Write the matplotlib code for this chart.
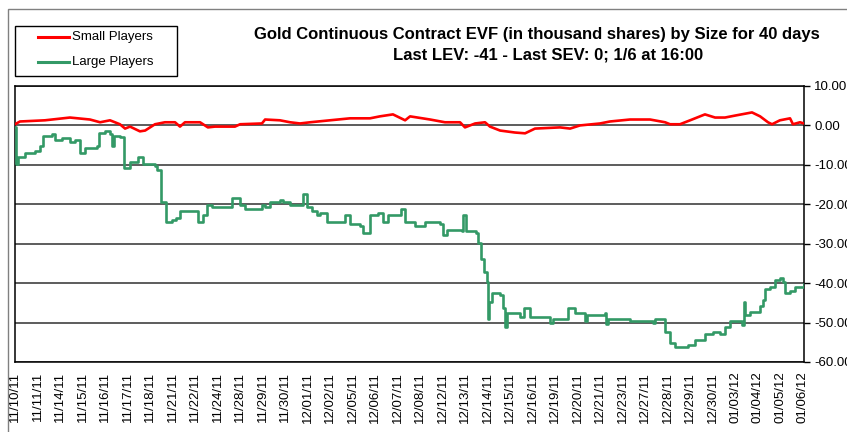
import matplotlib.pyplot as plt
from matplotlib.patches import Rectangle
from matplotlib.lines import Line2D

plt.rcParams['font.family'] = ['Liberation Sans', 'DejaVu Sans']

# trading days on the category axis
dates = ['11/10/11', '11/11/11', '11/14/11', '11/15/11', '11/16/11', '11/17/11',
         '11/18/11', '11/21/11', '11/22/11', '11/24/11', '11/28/11', '11/29/11',
         '11/30/11', '12/01/11', '12/02/11', '12/05/11', '12/06/11', '12/07/11',
         '12/08/11', '12/12/11', '12/13/11', '12/14/11', '12/15/11', '12/16/11',
         '12/19/11', '12/20/11', '12/21/11', '12/23/11', '12/27/11', '12/28/11',
         '12/29/11', '12/30/11', '01/03/12', '01/04/12', '01/05/12', '01/06/12']

# Large players EVF: position in days since 11/10, value in thousand shares
large_t = [0.00, 0.04, 0.13, 0.44, 0.89, 1.11, 1.24, 1.64, 1.78, 2.09, 2.44, 2.67,
           2.89, 3.11, 3.64, 3.73, 4.00, 4.22, 4.31, 4.40, 4.66, 4.84, 5.11, 5.46,
           5.69, 6.22, 6.31, 6.49, 6.71, 6.97, 7.15, 7.33, 8.00, 8.13, 8.35, 8.53,
           8.75, 9.33, 9.64, 10.00, 10.22, 10.79, 10.97, 11.11, 11.33, 11.77, 11.91,
           12.22, 12.66, 12.79, 12.97, 13.19, 13.42, 13.55, 13.86, 14.57, 14.66,
           14.88, 15.33, 15.46, 15.77, 16.13, 16.35, 16.57, 17.01, 17.15, 17.33,
           17.77, 18.21, 18.88, 19.01, 19.19, 19.86, 19.90, 20.04, 20.48, 20.57,
           20.70, 20.83, 20.97, 21.01, 21.06, 21.19, 21.55, 21.68, 21.77, 21.86,
           22.43, 22.61, 22.88, 23.68, 23.77, 23.90, 24.43, 24.57, 24.88, 25.28,
           25.32, 25.41, 26.21, 26.25, 26.34, 27.32, 28.34, 28.43, 28.74, 28.88,
           29.10, 29.32, 29.54, 29.90, 30.21, 30.65, 31.01, 31.32, 31.54, 31.76,
           32.30, 32.39, 32.43, 32.65, 33.10, 33.23, 33.32, 33.54, 33.76, 33.98,
           34.12, 34.21, 34.43, 34.65, 35.05]
large_v = [-0.3, -9.9, -7.9, -7.1, -6.6, -5.3, -2.8, -2.3, -3.6, -3.3, -4.1, -3.6,
           -6.9, -5.6, -5.3, -1.8, -1.5, -2.3, -5.3, -2.8, -3.0, -10.7, -9.4, -7.9,
           -9.9, -10.2, -11.2, -19.5, -24.6, -23.9, -23.4, -21.8, -21.6, -24.6, -22.6, -20.1,
           -20.8, -20.8, -18.3, -20.1, -21.3, -21.3, -20.1, -20.8, -19.5, -18.8, -19.3,
           -20.1, -20.1, -17.5, -20.6, -21.8, -22.6, -22.1, -24.6, -24.6, -22.6,
           -25.1, -25.6, -27.2, -22.6, -22.1, -24.6, -22.6, -22.6, -21.3, -24.6,
           -25.6, -24.6, -24.9, -27.7, -26.6, -26.9, -22.6, -26.9, -27.2, -29.7,
           -34.0, -37.3, -39.8, -49.2, -44.7, -42.4, -42.9, -46.2, -51.0, -47.5,
           -48.5, -46.2, -48.5, -48.5, -50.0, -49.2, -49.2, -46.2, -47.5, -47.5,
           -49.7, -48.0, -47.5, -50.3, -49.0, -49.7, -50.0, -49.0, -49.0, -52.5,
           -55.1, -56.1, -56.3, -55.6, -54.3, -53.0, -52.3, -53.0, -51.0, -49.5,
           -50.5, -44.7, -48.0, -47.2, -45.9, -44.2, -41.6, -40.9, -39.1, -38.6,
           -39.6, -42.4, -42.1, -40.9, -40.1]

# Small players EVF
small_t = [0.00, 0.22, 1.33, 2.44, 3.33, 3.78, 4.22, 4.66, 4.89, 5.11, 5.55, 5.78,
           6.22, 6.66, 7.11, 7.33, 7.55, 8.22, 8.57, 8.88, 9.77, 10.00, 10.97, 11.11,
           11.77, 12.22, 12.66, 13.11, 13.99, 14.88, 15.77, 16.21, 16.79, 17.33,
           17.55, 18.44, 19.10, 19.77, 19.99, 20.44, 20.88, 21.10, 21.55, 22.21,
           22.66, 23.10, 24.21, 24.66, 25.10, 25.99, 26.43, 27.32, 28.21, 28.88,
           29.10, 29.54, 29.99, 30.65, 31.10, 31.54, 31.99, 32.74, 33.10, 33.45,
           33.63, 33.98, 34.43, 34.56, 34.87, 35.05]
small_v = [0.3, 1.0, 1.3, 2.0, 1.5, 0.8, 1.3, 0.3, -0.8, -0.3, -1.5, -1.3,
           0.3, 0.8, 0.8, -0.3, 0.8, 0.8, -0.5, -0.3, -0.3, 0.3, 0.5, 1.5,
           1.3, 0.8, 0.5, 0.8, 1.3, 1.8, 1.8, 2.3, 2.8, 1.3,
           2.3, 1.5, 0.8, 0.8, -0.5, 0.5, 0.8, -0.3, -1.3, -1.8,
           -2.0, -0.8, -0.5, -0.8, 0.0, 0.5, 1.0, 1.5, 1.5, 0.8,
           0.3, 0.3, 1.3, 2.8, 2.0, 2.0, 2.5, 3.3, 2.3, 0.8,
           0.3, 1.3, 1.8, 0.3, 0.8, 0.5]

yticks = [10, 0, -10, -20, -30, -40, -50, -60]

red = '#FF0000'
green = '#339966'

fig = plt.figure(figsize=(8.47, 4.32), dpi=100)
ax = fig.add_axes([15/847, 1 - 362/432, 789/847, 276/432])

# intraday values are stepwise, like the original
ax.plot(large_t, large_v, color=green, linewidth=1.9, drawstyle='steps-post', zorder=3)
ax.plot(small_t, small_v, color=red, linewidth=1.9, zorder=4)

ax.set_xlim(0, 35.05)
ax.set_ylim(-60, 10)
ax.set_xticks(range(len(dates)))
ax.set_xticklabels(dates, rotation=90, ha='center', va='top', fontsize=9.5)
ax.tick_params(axis='x', length=0, pad=7)

ax.yaxis.tick_right()
ax.set_yticks(yticks)
ax.set_yticklabels([f'{v:.2f}' for v in yticks], fontsize=9.5)
ax.tick_params(axis='y', length=4.5, width=1, pad=3, direction='out')
ax.yaxis.grid(True, color='#303030', linewidth=1.1)
ax.set_axisbelow(True)
for s in ax.spines.values():
    s.set_color('black')
    s.set_linewidth(1.1)

# outer chart frame
fig.add_artist(Rectangle((8/847, -0.1), 1.0, 1 - 9/432 + 0.1, transform=fig.transFigure,
                         fill=False, edgecolor='#808080', linewidth=1))

# legend box
fig.add_artist(Rectangle((15/847, 1 - 76/432), 162/847, 50/432, transform=fig.transFigure,
                         fill=False, edgecolor='black', linewidth=1))
for yy, col, lab in [(37, red, 'Small Players'), (62, green, 'Large Players')]:
    fig.add_artist(Line2D([38/847, 69/847], [1 - yy/432] * 2, color=col, linewidth=2.2,
                          transform=fig.transFigure))
    fig.text(72/847, 1 - yy/432, lab, fontsize=9.5, va='center', ha='left')

fig.text(537/847, 1 - 35/432, 'Gold Continuous Contract EVF (in thousand shares) by Size for 40 days',
         fontsize=12, fontweight='bold', ha='center', va='center')
fig.text(548/847, 1 - 55/432, 'Last LEV: -41 - Last SEV: 0; 1/6 at 16:00',
         fontsize=12, fontweight='bold', ha='center', va='center')

fig.savefig('out.png', dpi=100)
